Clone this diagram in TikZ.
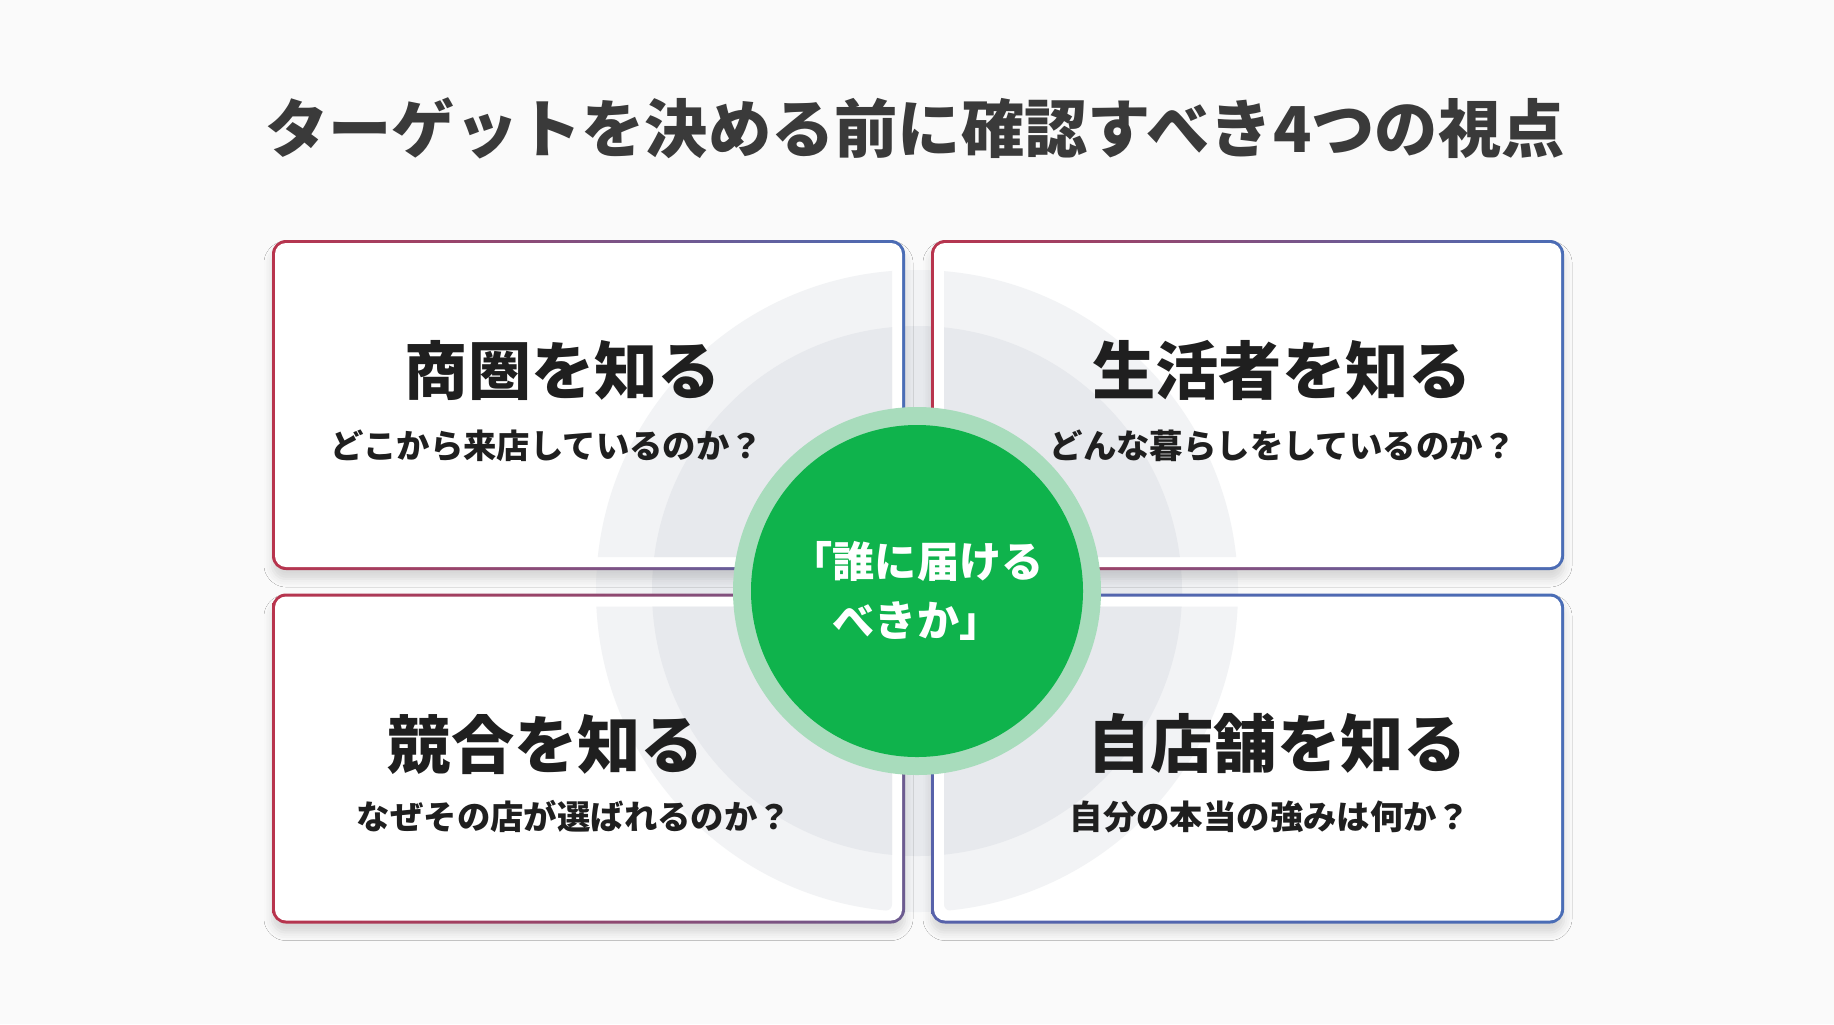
\documentclass[tikz,border=0pt]{standalone}
\usepackage{fontspec}
\newfontfamily\jpfont{Noto Sans CJK JP}
\usepackage{tikz}
\usetikzlibrary{shadows.blur}
\definecolor{edgered}{HTML}{B8344D}
\definecolor{edgeblue}{HTML}{4A6DB6}
\definecolor{edgeplum}{HTML}{6C5B90}
\definecolor{edgeiris}{HTML}{5762AA}
\definecolor{ringgreen}{HTML}{A8DCBC}
\definecolor{coregreen}{HTML}{0FB34C}
\definecolor{haloouter}{HTML}{F2F3F5}
\definecolor{haloinner}{HTML}{E7E9ED}
\definecolor{inkdark}{HTML}{1F1F1F}
\definecolor{titleink}{HTML}{3A3A3A}
\definecolor{paper}{HTML}{FAFAFA}
\tikzset{
    cardedge/.style={rectangle, rounded corners=0.14cm, minimum width=6.33cm,
        minimum height=3.30cm, inner sep=0pt, outer sep=0pt,
        blur shadow={shadow xshift=0pt, shadow yshift=-0.09cm,
            shadow blur radius=0.08cm, shadow opacity=14}},
    cardface/.style={rectangle, rounded corners=0.11cm, fill=white,
        minimum width=6.27cm, minimum height=3.24cm, inner sep=0pt, outer sep=0pt},
    heading/.style={font=\jpfont\bfseries\fontsize{18}{22}\selectfont,
        text=inkdark, inner sep=0pt},
    question/.style={font=\jpfont\bfseries\fontsize{9.5}{12}\selectfont,
        text=inkdark, inner sep=0pt},
}

\begin{document}
\begin{tikzpicture}[]
    \fill[paper] (0,0) rectangle (18.34,-10.24);
    \useasboundingbox (0,0) rectangle (18.34,-10.24);
    \coordinate (7c2e91ad) at (9.17,-5.91);
    \fill[haloouter] (7c2e91ad) circle (3.21);
    \fill[haloinner] (7c2e91ad) circle (2.65);
    \node[cardedge, left color=edgered, right color=edgeblue] at (5.885,-4.05) (3fa0c1e2) {};
    \node[cardedge, left color=edgered, right color=edgeblue] at (12.475,-4.05) (b81d44f3) {};
    \node[cardedge, left color=edgered, right color=edgeplum] at (5.885,-7.585) (52e7a9c0) {};
    \node[cardedge, left color=edgeiris, right color=edgeblue] at (12.475,-7.585) (e09b6d17) {};
    \node[cardface] at (3fa0c1e2) (3fa0c1e2f) {};
    \node[cardface] at (b81d44f3) (b81d44f3f) {};
    \node[cardface] at (52e7a9c0) (52e7a9c0f) {};
    \node[cardface] at (e09b6d17) (e09b6d17f) {};
    \foreach \face in {3fa0c1e2f,b81d44f3f,52e7a9c0f,e09b6d17f}{
        \begin{scope}
            \clip[rounded corners=0.06cm] ([shift={(0.10,0.10)}]\face.south west)
                rectangle ([shift={(-0.10,-0.10)}]\face.north east);
            \fill[haloouter] (7c2e91ad) circle (3.21);
            \fill[haloinner] (7c2e91ad) circle (2.65);
        \end{scope}
    }
    \node[font=\jpfont\bfseries\fontsize{18}{22}\selectfont, text=titleink, inner sep=0pt]
        at (9.15,-1.28) (a41f0d5b) {ターゲットを決める前に確認すべき4つの視点};
    \node[heading] at (5.63,-3.70) (c5d2e8a1) {商圏を知る};
    \node[question] at (5.47,-4.46) (c5d2e8a2) {どこから来店しているのか？};
    \node[heading] at (12.82,-3.70) (d93b07e1) {生活者を知る};
    \node[question] at (12.83,-4.46) (d93b07e2) {どんな暮らしをしているのか？};
    \node[heading] at (5.46,-7.45) (f2a6c3b1) {競合を知る};
    \node[question] at (5.74,-8.16) (f2a6c3b2) {なぜその店が選ばれるのか？};
    \node[heading] at (12.77,-7.43) (0be4d7c1) {自店舗を知る};
    \node[question] at (12.70,-8.17) (0be4d7c2) {自分の本当の強みは何か？};
    \node[circle, fill=ringgreen, minimum size=3.68cm, inner sep=0pt] at (7c2e91ad) (9d1c5e06) {};
    \node[circle, fill=coregreen, minimum size=3.32cm, inner sep=0pt, text=white, align=center,
        font=\jpfont\bfseries\fontsize{12}{17}\selectfont] at (7c2e91ad) (9d1c5e07)
        {「誰に届ける\\べきか」};
\end{tikzpicture}
\end{document}
